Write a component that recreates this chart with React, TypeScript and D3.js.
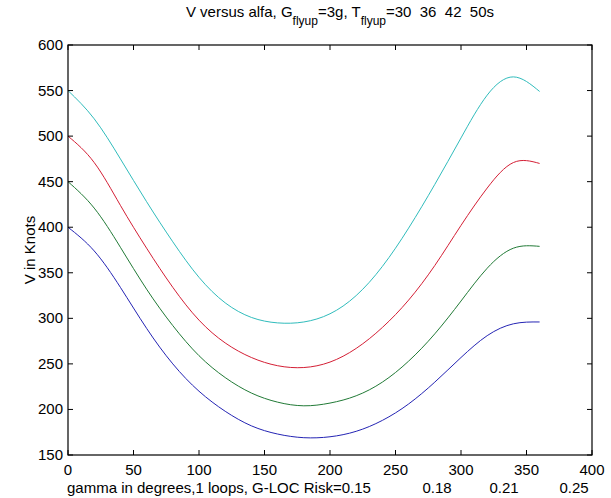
import React from "react";
import * as d3 from "d3";

const gammaDeg = [0, 20, 40, 60, 80, 100, 120, 140, 160, 180, 200, 220, 240, 260, 280, 300, 320, 340, 360];
const vCyan = [550, 519, 475, 428, 384, 345, 317, 301, 295, 296, 305, 325, 357, 399, 447, 498, 545, 565, 549];
const vRed = [500, 471, 424, 377, 334, 298, 273, 257, 248, 246, 252, 267, 290, 320, 358, 402, 443, 471, 470];
const vGreen = [450, 421, 378, 332, 292, 259, 235, 218, 208, 204, 207, 215, 230, 253, 283, 319, 355, 377, 379];
const vBlue = [400, 374, 334, 289, 250, 220, 198, 182, 173, 169, 170, 176, 188, 206, 230, 257, 281, 294, 296];

const xTicks = [0, 50, 100, 150, 200, 250, 300, 350, 400];
const yTicks = [150, 200, 250, 300, 350, 400, 450, 500, 550, 600];
const riskLabels = ["0.18", "0.21", "0.25"];

const series = [
  { name: "T=50s", values: vCyan, color: "#30bcbc" },
  { name: "T=42s", values: vRed, color: "#d41f35" },
  { name: "T=36s", values: vGreen, color: "#217a36" },
  { name: "T=30s", values: vBlue, color: "#2424b4" },
];

export default function App() {
  const W = 611, H = 498;
  const L = 68, R = 592, T = 45, B = 455;
  const x = d3.scaleLinear().domain([0, 400]).range([L, R]);
  const y = d3.scaleLinear().domain([150, 600]).range([B, T]);
  const line = d3
    .line<number>()
    .x((_, i) => x(gammaDeg[i]))
    .y((d) => y(d))
    .curve(d3.curveNatural);
  const font = "'Liberation Sans', Arial, sans-serif";
  const riskX = [437, 504, 574];
  const fs = 15;
  return (
    <svg width={W} height={H} style={{ position: "absolute", left: 0, top: 0, background: "#fff" }} fontFamily={font}>
      <rect x={0} y={0} width={W} height={H} fill="#fff" />
      {series.map((s) => (
        <path key={s.name} d={line(s.values) || ""} fill="none" stroke={s.color} strokeWidth={1} />
      ))}
      <rect x={L} y={T} width={R - L} height={B - T} fill="none" stroke="#000" strokeWidth={1.2} />
      {xTicks.map((t) => (
        <g key={"x" + t}>
          <line x1={x(t)} x2={x(t)} y1={B} y2={B - 5} stroke="#000" />
          <line x1={x(t)} x2={x(t)} y1={T} y2={T + 5} stroke="#000" />
          <text x={x(t)} y={B + 20} fontSize={fs} textAnchor="middle" fill="#000">
            {t}
          </text>
        </g>
      ))}
      {yTicks.map((t) => (
        <g key={"y" + t}>
          <line x1={L} x2={L + 5} y1={y(t)} y2={y(t)} stroke="#000" />
          <line x1={R} x2={R - 5} y1={y(t)} y2={y(t)} stroke="#000" />
          <text x={L - 5} y={y(t) + 5} fontSize={fs} textAnchor="end" fill="#000">
            {t}
          </text>
        </g>
      ))}
      <text x={494} y={17} fontSize={fs} textAnchor="end" fill="#000">
        V versus alfa, G
        <tspan fontSize={12} dy={8}>flyup</tspan>
        <tspan dy={-8}>=3g, T</tspan>
        <tspan fontSize={12} dy={8}>flyup</tspan>
        <tspan dy={-8} style={{ whiteSpace: "pre" }}>=30  36  42  50s</tspan>
      </text>
      <text
        transform={`translate(35, ${(T + B) / 2}) rotate(-90)`}
        fontSize={fs}
        textAnchor="middle"
        fill="#000"
      >
        V in Knots
      </text>
      <text x={L - 1} y={493} fontSize={fs} fill="#000">
        gamma in degrees,1 loops, G-LOC Risk=0.15
      </text>
      {riskLabels.map((r, i) => (
        <text key={r} x={riskX[i]} y={493} fontSize={fs} textAnchor="middle" fill="#000">
          {r}
        </text>
      ))}
    </svg>
  );
}
